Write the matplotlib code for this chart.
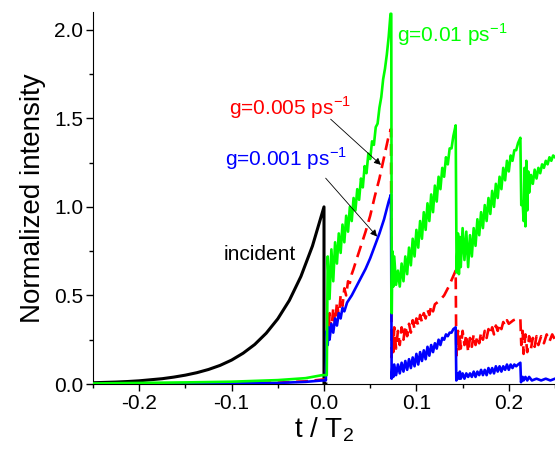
import matplotlib.pyplot as plt

plt.rcParams['font.family'] = ['Liberation Sans', 'DejaVu Sans']
plt.rcParams['mathtext.fontset'] = 'custom'
plt.rcParams['mathtext.rm'] = 'Liberation Sans'

# incident pulse
t_inc = [-0.25, -0.2375, -0.225, -0.2125, -0.2, -0.1875, -0.175, -0.1625, -0.15,
         -0.1375, -0.125, -0.1125, -0.1, -0.0875, -0.075, -0.0625, -0.05, -0.0375,
         -0.025, -0.0125, 0.0, 0.0, 0.002]
v_inc = [0.007, 0.009, 0.011, 0.014, 0.018, 0.024, 0.030, 0.039, 0.050,
         0.064, 0.082, 0.105, 0.135, 0.174, 0.223, 0.287, 0.368, 0.472,
         0.607, 0.779, 1.0, 0.0, 0.0]

# g = 0.01 ps^-1
t_g3 = [-0.25, -0.2, -0.15, -0.1, -0.05, -0.02, -0.002, 0.003,
        0.004, 0.006, 0.008, 0.010, 0.012, 0.014, 0.016, 0.018, 0.020, 0.022,
        0.024, 0.026, 0.028, 0.030, 0.032, 0.034, 0.036, 0.038, 0.040, 0.042,
        0.044, 0.046, 0.048, 0.050, 0.052, 0.054, 0.056, 0.058, 0.060, 0.062,
        0.064, 0.066, 0.068, 0.070, 0.072, 0.0728,
        0.0733, 0.074, 0.075, 0.076, 0.078, 0.080, 0.082, 0.084, 0.086, 0.088,
        0.090, 0.092, 0.094, 0.096, 0.098, 0.100, 0.102, 0.104, 0.106, 0.108,
        0.110, 0.112, 0.114, 0.116, 0.118, 0.120, 0.122, 0.124, 0.126, 0.128,
        0.130, 0.132, 0.134, 0.136, 0.138, 0.140, 0.1425,
        0.1435, 0.145, 0.146, 0.147, 0.148, 0.150, 0.152, 0.154, 0.156, 0.158,
        0.160, 0.162, 0.164, 0.166, 0.168, 0.170, 0.172, 0.174, 0.176, 0.178,
        0.180, 0.182, 0.184, 0.186, 0.188, 0.190, 0.192, 0.194, 0.196, 0.198,
        0.200, 0.202, 0.204, 0.206, 0.208, 0.210, 0.2125,
        0.2135, 0.215, 0.216, 0.217, 0.218, 0.219, 0.220, 0.221, 0.222, 0.224,
        0.226, 0.228, 0.230, 0.232, 0.234, 0.236, 0.238, 0.240, 0.242, 0.244,
        0.246, 0.248, 0.250]
v_g3 = [0.003, 0.006, 0.009, 0.013, 0.022, 0.033, 0.05, 0.05,
        0.72, 0.48, 0.76, 0.58, 0.80, 0.68, 0.85, 0.74, 0.90, 0.80,
        0.95, 0.86, 1.00, 0.92, 1.05, 0.98, 1.10, 1.04, 1.16, 1.11,
        1.23, 1.19, 1.30, 1.27, 1.37, 1.35, 1.45, 1.47, 1.56, 1.62,
        1.72, 1.78, 1.86, 1.96, 2.09, 2.09,
        0.40, 0.75, 0.55, 0.72, 0.56, 0.64, 0.55, 0.68, 0.58, 0.72,
        0.62, 0.77, 0.67, 0.82, 0.72, 0.87, 0.77, 0.92, 0.82, 0.97,
        0.87, 1.02, 0.92, 1.07, 0.97, 1.12, 1.03, 1.17, 1.10, 1.22,
        1.17, 1.28, 1.24, 1.33, 1.33, 1.40, 1.46,
        0.63, 0.85, 0.62, 0.83, 0.66, 0.88, 0.70, 0.86, 0.66, 0.84,
        0.72, 0.88, 0.78, 0.93, 0.84, 0.97, 0.88, 1.01, 0.92, 1.05,
        0.96, 1.09, 1.00, 1.13, 1.05, 1.17, 1.10, 1.22, 1.15, 1.26,
        1.20, 1.29, 1.26, 1.32, 1.32, 1.36, 1.39,
        1.01, 1.03, 0.92, 1.22, 0.89, 1.26, 0.98, 1.20, 1.08, 1.18,
        1.13, 1.21, 1.16, 1.22, 1.19, 1.24, 1.22, 1.26, 1.24, 1.28,
        1.26, 1.29, 1.28]

# g = 0.005 ps^-1
t_g2 = [-0.25, -0.2, -0.15, -0.1, -0.05, -0.02, -0.002, 0.002,
        0.003, 0.004, 0.005, 0.006, 0.008, 0.010, 0.012, 0.014, 0.016, 0.018,
        0.020, 0.022, 0.024, 0.026, 0.028, 0.030, 0.032, 0.035, 0.040, 0.045,
        0.050, 0.055, 0.060, 0.065, 0.070, 0.0725,
        0.0732, 0.074, 0.075, 0.076, 0.078, 0.080, 0.082, 0.084, 0.086, 0.088,
        0.090, 0.092, 0.094, 0.096, 0.098, 0.100, 0.102, 0.104, 0.106, 0.108,
        0.110, 0.112, 0.114, 0.116, 0.118, 0.120, 0.125, 0.130, 0.135, 0.140,
        0.1425,
        0.1432, 0.145, 0.146, 0.147, 0.148, 0.150, 0.152, 0.154, 0.156, 0.158,
        0.160, 0.162, 0.164, 0.166, 0.168, 0.170, 0.172, 0.174, 0.176, 0.178,
        0.180, 0.182, 0.184, 0.186, 0.188, 0.190, 0.192, 0.194, 0.196, 0.198,
        0.200, 0.205, 0.210, 0.2125,
        0.2135, 0.215, 0.216, 0.218, 0.220, 0.222, 0.224, 0.226, 0.228, 0.230,
        0.232, 0.235, 0.238, 0.241, 0.244, 0.247, 0.250]
v_g2 = [0.0, 0.001, 0.002, 0.004, 0.008, 0.015, 0.025, 0.025,
        0.22, 0.38, 0.26, 0.40, 0.30, 0.43, 0.34, 0.46, 0.38, 0.50,
        0.44, 0.54, 0.50, 0.58, 0.57, 0.62, 0.65, 0.70, 0.78, 0.86,
        0.95, 1.06, 1.16, 1.28, 1.40, 1.44,
        0.15, 0.30, 0.18, 0.32, 0.20, 0.30, 0.22, 0.32, 0.25, 0.33,
        0.27, 0.34, 0.29, 0.36, 0.31, 0.37, 0.33, 0.39, 0.35, 0.40,
        0.37, 0.42, 0.39, 0.44, 0.41, 0.45, 0.47, 0.50, 0.55, 0.61,
        0.64,
        0.16, 0.30, 0.18, 0.28, 0.20, 0.30, 0.22, 0.28, 0.18, 0.26,
        0.21, 0.28, 0.22, 0.27, 0.23, 0.29, 0.25, 0.30, 0.26, 0.31,
        0.28, 0.32, 0.28, 0.33, 0.30, 0.34, 0.31, 0.35, 0.33, 0.36,
        0.34, 0.36, 0.37, 0.37,
        0.22, 0.30, 0.17, 0.28, 0.18, 0.27, 0.20, 0.26, 0.21, 0.27,
        0.22, 0.27, 0.23, 0.28, 0.24, 0.28, 0.25]

# g = 0.001 ps^-1
t_g1 = [-0.25, -0.2, -0.15, -0.1, -0.05, -0.02, -0.002, 0.002,
        0.003, 0.004, 0.005, 0.006, 0.008, 0.010, 0.012, 0.014, 0.016, 0.018,
        0.020, 0.022, 0.025, 0.030, 0.035, 0.040, 0.045, 0.050, 0.055, 0.060,
        0.065, 0.070, 0.0725,
        0.0732, 0.074, 0.075, 0.076, 0.078, 0.080, 0.082, 0.084, 0.086, 0.088,
        0.090, 0.092, 0.094, 0.096, 0.098, 0.100, 0.102, 0.104, 0.106, 0.108,
        0.110, 0.112, 0.114, 0.116, 0.118, 0.120, 0.122, 0.124, 0.126, 0.128,
        0.130, 0.132, 0.134, 0.136, 0.138, 0.140, 0.1425,
        0.1432, 0.145, 0.146, 0.147, 0.148, 0.150, 0.152, 0.154, 0.156, 0.158,
        0.160, 0.162, 0.164, 0.166, 0.168, 0.170, 0.172, 0.174, 0.176, 0.178,
        0.180, 0.182, 0.184, 0.186, 0.188, 0.190, 0.192, 0.194, 0.196, 0.198,
        0.200, 0.202, 0.204, 0.206, 0.208, 0.210, 0.2125,
        0.2132, 0.215, 0.216, 0.218, 0.220, 0.222, 0.225, 0.230, 0.235, 0.240,
        0.245, 0.250]
v_g1 = [0.0, 0.001, 0.002, 0.003, 0.006, 0.012, 0.02, 0.02,
        0.30, 0.22, 0.32, 0.25, 0.34, 0.29, 0.37, 0.33, 0.40, 0.37,
        0.43, 0.41, 0.46, 0.50, 0.55, 0.60, 0.65, 0.71, 0.78, 0.85,
        0.93, 1.03, 1.07,
        0.03, 0.10, 0.04, 0.11, 0.05, 0.11, 0.06, 0.12, 0.07, 0.13,
        0.08, 0.14, 0.09, 0.15, 0.10, 0.17, 0.11, 0.18, 0.13, 0.19,
        0.14, 0.21, 0.16, 0.22, 0.18, 0.23, 0.20, 0.25, 0.22, 0.26,
        0.25, 0.28, 0.27, 0.29, 0.29, 0.31, 0.32,
        0.02, 0.06, 0.03, 0.07, 0.03, 0.06, 0.03, 0.06, 0.04, 0.06,
        0.04, 0.07, 0.04, 0.07, 0.05, 0.08, 0.05, 0.08, 0.05, 0.09,
        0.06, 0.09, 0.06, 0.10, 0.07, 0.10, 0.07, 0.10, 0.08, 0.11,
        0.08, 0.11, 0.09, 0.11, 0.10, 0.11, 0.12,
        0.01, 0.04, 0.02, 0.04, 0.02, 0.04, 0.02, 0.03, 0.02, 0.03,
        0.02, 0.03]

fig = plt.figure(figsize=(5.55, 4.57), dpi=100)
ax = fig.add_axes([93 / 555, 73 / 457, 462 / 555, 372 / 457])

ax.plot(t_inc, v_inc, color='black', lw=2.2, zorder=2)
ax.plot(t_g2, v_g2, color='#ff0000', lw=1.9, dashes=(4.5, 2.5), zorder=3)
ax.plot(t_g1, v_g1, color='#0000ff', lw=1.9, zorder=4)
ax.plot(t_g3, v_g3, color='#00ff00', lw=1.9, zorder=5)

ax.set_xlim(-0.25, 0.25)
ax.set_ylim(0, 2.1)
ax.set_xticks([-0.2, -0.1, 0.0, 0.1, 0.2])
ax.set_xticks([-0.25, -0.15, -0.05, 0.05, 0.15, 0.25], minor=True)
ax.set_yticks([0.0, 0.5, 1.0, 1.5, 2.0])
ax.set_yticks([0.25, 0.75, 1.25, 1.75], minor=True)
ax.xaxis.set_major_formatter(plt.FormatStrFormatter('%.1f'))
ax.yaxis.set_major_formatter(plt.FormatStrFormatter('%.1f'))
ax.tick_params(which='major', direction='out', length=5, width=1, labelsize=15, pad=2)
ax.tick_params(which='minor', direction='out', length=3, width=1)
for side in ('top', 'right'):
    ax.spines[side].set_visible(False)

ax.set_xlabel(r't / T$_\mathregular{2}$', fontsize=20, labelpad=2)
ax.set_ylabel('Normalized intensity', fontsize=20, labelpad=6)

ax.text(0.079, 1.97, r'g=0.01 ps$^\mathregular{-1}$', color='#00ff00',
        fontsize=15, ha='left', va='center')
ax.text(0.0295, 1.56, r'g=0.005 ps$^\mathregular{-1}$', color='#ff0000',
        fontsize=15, ha='right', va='center')
ax.text(0.025, 1.27, r'g=0.001 ps$^\mathregular{-1}$', color='#0000ff',
        fontsize=15, ha='right', va='center')
ax.text(-0.0696, 0.73, 'incident', color='black', fontsize=15,
        ha='center', va='center')

arrow = dict(arrowstyle='-|>', color='black', lw=0.6, mutation_scale=10,
             shrinkA=0, shrinkB=0)
ax.annotate('', xy=(0.0616, 1.237), xytext=(0.0072, 1.495), arrowprops=arrow, zorder=6)
ax.annotate('', xy=(0.0575, 0.832), xytext=(0.0018, 1.162), arrowprops=arrow, zorder=6)

fig.savefig('out.png', dpi=100)
